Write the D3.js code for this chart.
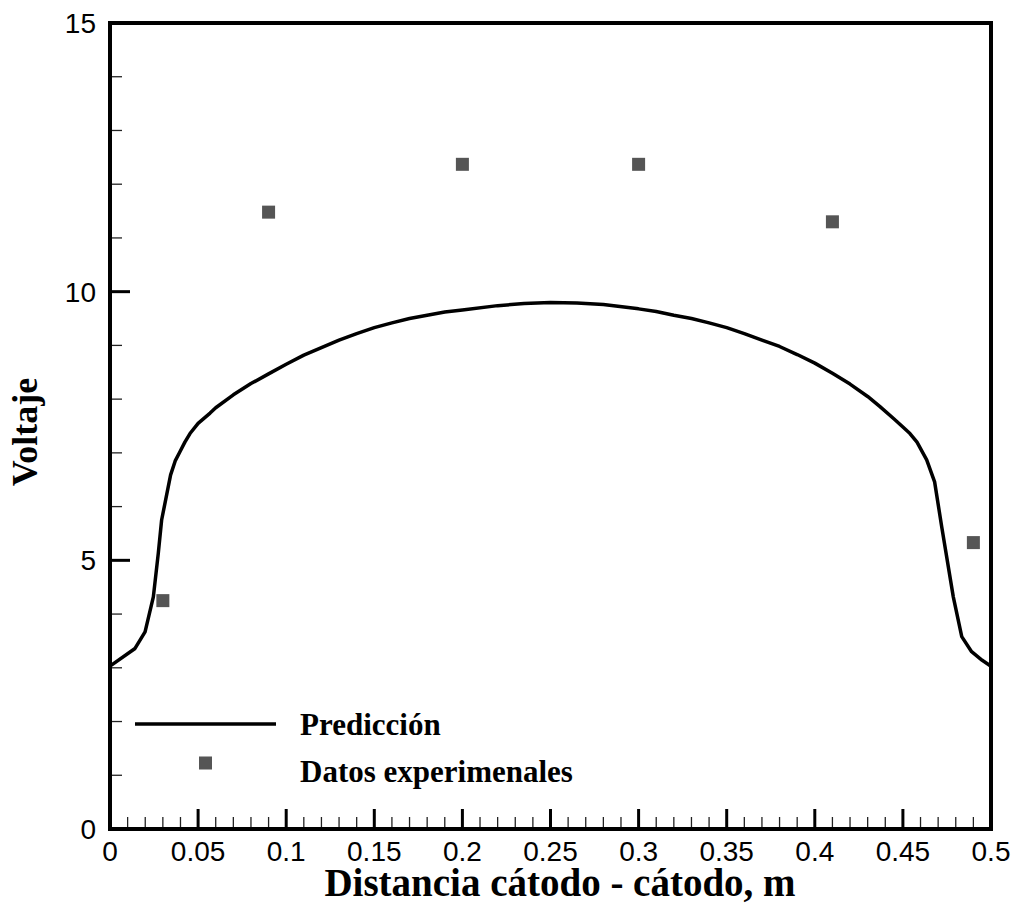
<!DOCTYPE html>
<html>
<head>
<meta charset="utf-8">
<script src="https://cdn.jsdelivr.net/npm/d3@7"></script>
<style>
  html, body { margin: 0; padding: 0; background: #fff; }
  svg { display: block; }
</style>
</head>
<body>
<svg id="chart" width="1021" height="907"></svg>
<script>
// Predicted voltage profile between the cathodes
const predX = [0, 0.0142, 0.0199, 0.0246, 0.0274, 0.0293, 0.0344, 0.037, 0.0397, 0.0425, 0.0454, 0.05, 0.0568, 0.06, 0.07, 0.08, 0.09, 0.10,
               0.11, 0.12, 0.13, 0.14, 0.15, 0.16, 0.17, 0.18, 0.19, 0.20, 0.22, 0.235, 0.25, 0.265, 0.28, 0.30, 0.31, 0.32, 0.33, 0.34,
               0.35, 0.36, 0.37, 0.38, 0.39, 0.40, 0.41, 0.42, 0.43, 0.437, 0.445, 0.45, 0.454, 0.458, 0.4635, 0.468, 0.472, 0.4786,
               0.4834, 0.489, 0.495, 0.5];
const predY = [3.03, 3.36, 3.67, 4.32, 5.13, 5.75, 6.59, 6.85, 7.02, 7.2, 7.36, 7.55, 7.74, 7.84, 8.08, 8.29, 8.47, 8.65,
               8.82, 8.96, 9.1, 9.22, 9.33, 9.42, 9.50, 9.56, 9.62, 9.66, 9.74, 9.78, 9.80, 9.79, 9.76, 9.68, 9.63, 9.56, 9.50, 9.42,
               9.33, 9.22, 9.1, 8.98, 8.83, 8.67, 8.48, 8.28, 8.05, 7.86, 7.63, 7.48, 7.36, 7.2, 6.87, 6.46, 5.63, 4.32,
               3.58, 3.30, 3.14, 3.03];

// Measured values
const expX = [0.03, 0.09, 0.2, 0.3, 0.41, 0.49];
const expY = [4.25, 11.48, 12.37, 12.37, 11.30, 5.33];

// Axis ticks
const xTicks = [0, 0.05, 0.1, 0.15, 0.2, 0.25, 0.3, 0.35, 0.4, 0.45, 0.5];
const xTickLabels = ["0", "0.05", "0.1", "0.15", "0.2", "0.25", "0.3", "0.35", "0.4", "0.45", "0.5"];
const yTicks = [0, 5, 10, 15];
const yTickLabels = ["0", "5", "10", "15"];

const legendLabels = ["Predicción", "Datos experimenales"];
const xTitle = "Distancia cátodo - cátodo, m";
const yTitle = "Voltaje";

const svg = d3.select("#chart");
const plotL = 110, plotR = 991, plotT = 23, plotB = 829;

const x = d3.scaleLinear().domain([0, 0.5]).range([plotL, plotR]);
const y = d3.scaleLinear().domain([0, 15]).range([plotB, plotT]);

const sansFont = "'Liberation Sans', Arial, sans-serif";
const serifFont = "'Liberation Serif', 'Times New Roman', serif";

// Minor ticks (inward)
const xMinor = d3.range(0, 51).map(i => i / 100).filter((v, i) => i % 5 !== 0);
const yMinor = d3.range(0, 16).filter(v => v % 5 !== 0);

const g = svg.append("g");

g.selectAll(".xminor").data(xMinor).enter().append("line")
  .attr("x1", d => x(d)).attr("x2", d => x(d))
  .attr("y1", plotB).attr("y2", plotB - 12)
  .attr("stroke", "#222").attr("stroke-width", 1.3);

g.selectAll(".yminor").data(yMinor).enter().append("line")
  .attr("x1", plotL).attr("x2", plotL + 12)
  .attr("y1", d => y(d)).attr("y2", d => y(d))
  .attr("stroke", "#222").attr("stroke-width", 1.3);

// Major ticks
g.selectAll(".xmajor").data(xTicks).enter().append("line")
  .attr("x1", d => x(d)).attr("x2", d => x(d))
  .attr("y1", plotB).attr("y2", plotB - 20)
  .attr("stroke", "#000").attr("stroke-width", 3);

g.selectAll(".ymajor").data(yTicks).enter().append("line")
  .attr("x1", plotL).attr("x2", plotL + 20)
  .attr("y1", d => y(d)).attr("y2", d => y(d))
  .attr("stroke", "#000").attr("stroke-width", 3);

// Frame
g.append("rect")
  .attr("x", plotL).attr("y", plotT)
  .attr("width", plotR - plotL).attr("height", plotB - plotT)
  .attr("fill", "none").attr("stroke", "#000").attr("stroke-width", 4);

// Tick labels
g.selectAll(".xlab").data(xTicks).enter().append("text")
  .attr("x", d => x(d)).attr("y", 861)
  .attr("text-anchor", "middle")
  .attr("font-family", sansFont).attr("font-size", 28)
  .text((d, i) => xTickLabels[i]);

g.selectAll(".ylab").data(yTicks).enter().append("text")
  .attr("x", 96).attr("y", d => y(d) + 10)
  .attr("text-anchor", "end")
  .attr("font-family", sansFont).attr("font-size", 28)
  .text((d, i) => yTickLabels[i]);

// Axis titles
g.append("text")
  .attr("x", 560).attr("y", 896)
  .attr("text-anchor", "middle")
  .attr("font-family", serifFont).attr("font-weight", "bold").attr("font-size", 39)
  .text(xTitle);

g.append("text")
  .attr("transform", "translate(37, 432) rotate(-90)")
  .attr("text-anchor", "middle")
  .attr("font-family", serifFont).attr("font-weight", "bold").attr("font-size", 36)
  .text(yTitle);

// Prediction curve
const pred = predX.map((v, i) => [v, predY[i]]);
g.append("path")
  .datum(pred)
  .attr("fill", "none").attr("stroke", "#000").attr("stroke-width", 3.5)
  .attr("stroke-linejoin", "round")
  .attr("d", d3.line().x(d => x(d[0])).y(d => y(d[1])).curve(d3.curveLinear));

// Experimental squares
const sq = 13;
const exp = expX.map((v, i) => [v, expY[i]]);
g.selectAll(".pt").data(exp).enter().append("rect")
  .attr("x", d => x(d[0]) - sq / 2).attr("y", d => y(d[1]) - sq / 2)
  .attr("width", sq).attr("height", sq)
  .attr("fill", "#555");

// Legend
const leg = g.append("g");
leg.append("line")
  .attr("x1", 135).attr("x2", 276).attr("y1", 724).attr("y2", 724)
  .attr("stroke", "#000").attr("stroke-width", 3.5);
leg.append("rect")
  .attr("x", 205.5 - sq / 2).attr("y", 763 - sq / 2)
  .attr("width", sq).attr("height", sq).attr("fill", "#555");
leg.selectAll("text").data(legendLabels).enter().append("text")
  .attr("x", 300).attr("y", (d, i) => 735 + i * 47)
  .attr("font-family", serifFont).attr("font-weight", "bold").attr("font-size", 31)
  .text(d => d);
</script>
</body>
</html>
